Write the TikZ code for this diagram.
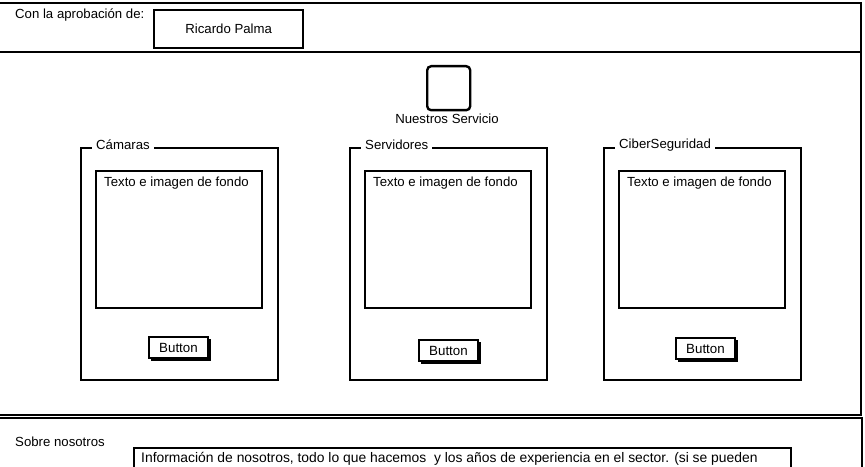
\documentclass[tikz,border=0pt]{standalone}
\usepackage{fontspec}
\setmainfont{Liberation Sans}
\begin{document}
\begin{tikzpicture}[x=0.75pt,y=-0.75pt,line width=1.8pt,
  sz/.style 2 args={minimum width=#1*0.75pt,minimum height=#2*0.75pt},
  wbox/.style={draw,fill=white,inner sep=0pt,anchor=north west},
  txt/.style={inner sep=0pt,font=\fontsize{9.9}{12}\selectfont},
  ttl/.style={fill=white,inner xsep=3pt,inner ysep=1pt,anchor=west,font=\fontsize{9.9}{12}\selectfont},
  shadow/.style={fill=black,draw,line width=1pt},
  btn/.style={draw,fill=white,inner sep=0pt,font=\fontsize{10}{12}\selectfont,line width=1.5pt}]
\useasboundingbox (0,0) rectangle (865,467);
\fill[white] (0,0) rectangle (865,467);
\begin{scope}
\clip (0,0) rectangle (865,467);
% panels
\draw[line width=2.1pt] (-2,3) rectangle (861,52);
\draw[line width=2.1pt] (-2,52) rectangle (861,415);
\draw[line width=2.1pt] (-2,418) rectangle (862,490);
% header
\node[txt,anchor=west] (apr) at (14,15) {Con la aprobación de:};
\node[wbox,sz={149}{38}] (rp) at (153,9) {};
\node[txt] (rpt) at (rp.center) {Ricardo Palma};
% services icon
\node[draw,rounded corners=3pt,inner sep=0pt,sz={43}{44},anchor=north west] (icon) at (426,65) {};
\node[txt] (ns) at (447,119) {Nuestros Servicio};
% cards
\foreach \x/\t/\bx/\by/\n in {80/Cámaras/148/336/a,349/Servidores/418/339/b,603/CiberSeguridad/675/337/c}{
  \node[wbox,fill=none,sz={197}{232}] (card\n) at (\x,147) {};
  \node[ttl] (title\n) at (\x+11,145) {\t};
  \node[wbox,sz={166}{137}] (img\n) at (\x+15,170) {};
  \node[txt,anchor=north west] (imgt\n) at (\x+23,176) {Texto e imagen de fondo};
  \node[shadow,inner sep=0pt,sz={59}{21},anchor=north west] (sh\n) at (\bx+3,\by+3) {};
  \node[btn,sz={59}{21},anchor=north west] (btn\n) at (\bx,\by) {Button};
}
% footer
\node[txt,anchor=west] (sobre) at (14,442) {Sobre nosotros};
\node[wbox,sz={657}{40}] (info) at (133,447) {};
\node[txt,anchor=west,font=\fontsize{10.4}{12}\selectfont] (infot) at (140,459) {Información de nosotros, todo lo que hacemos\ \ y los años de experiencia en el sector. (si se pueden};
\end{scope}
\end{tikzpicture}
\end{document}
